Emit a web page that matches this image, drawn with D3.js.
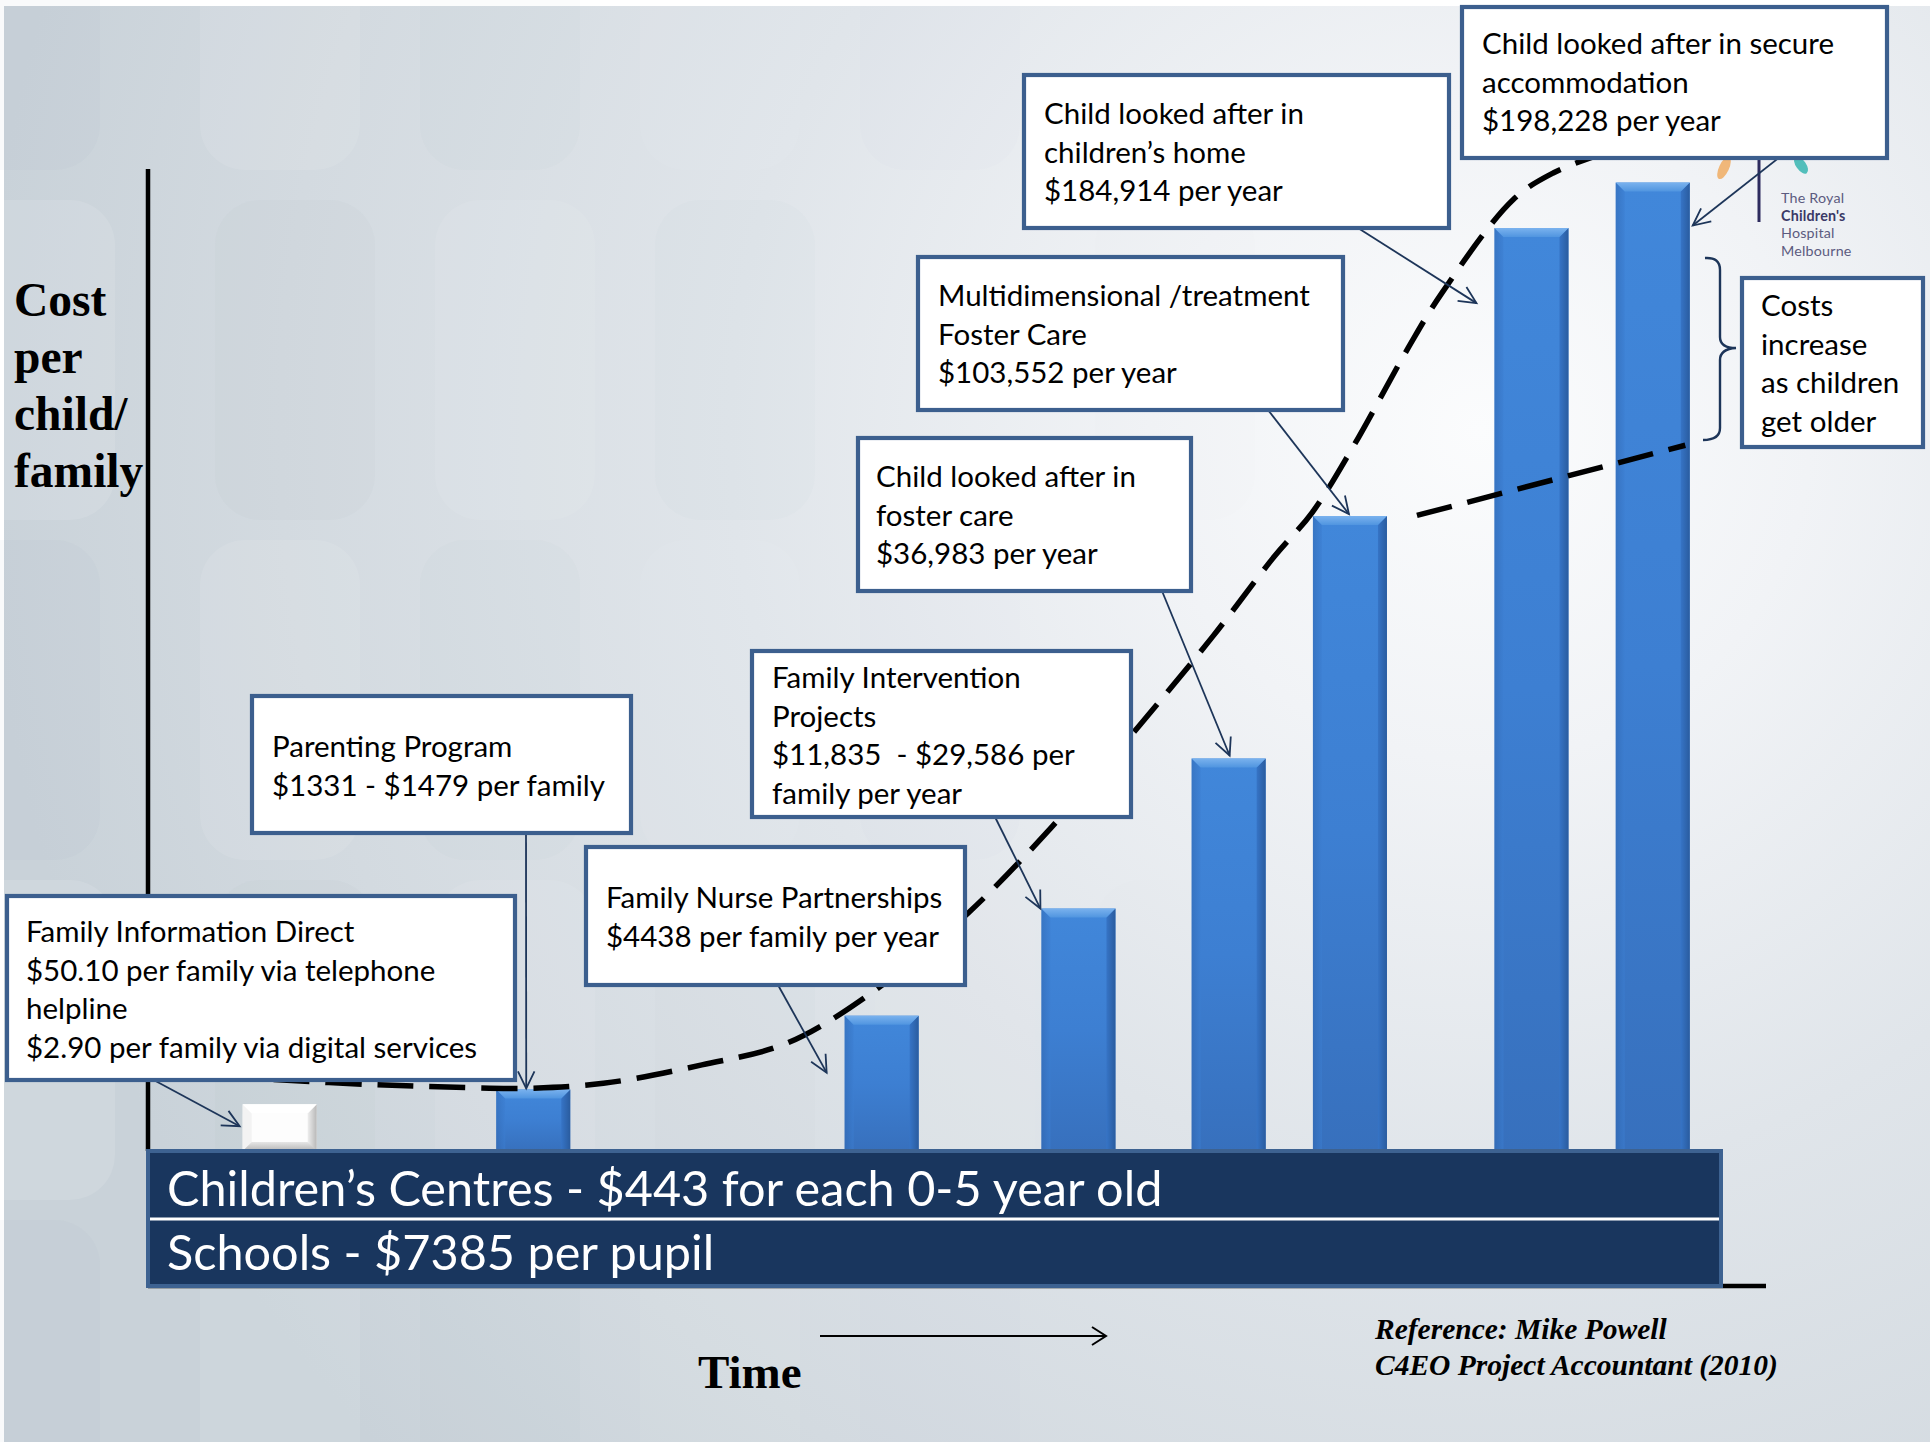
<!DOCTYPE html>
<html><head><meta charset="utf-8">
<script src="https://cdn.jsdelivr.net/npm/d3@7"></script>
<style>
html,body{margin:0;padding:0;background:#fff;}
svg{display:block;}
text{white-space:pre;}
</style></head>
<body>
<svg id="chart" width="1930" height="1442"></svg>
<script>
// ---------------- data ----------------
const categories = [
  "Family Information Direct","Parenting Program","Family Nurse Partnerships",
  "Family Intervention Projects","Child looked after in foster care",
  "Multidimensional /treatment Foster Care","Child looked after in children's home",
  "Child looked after in secure accommodation"];
// position along the time axis (0-100) and schematic cost level (0-100)
const timePosition = [8.37, 24.49, 46.64, 59.15, 68.70, 76.41, 87.95, 95.66];
const costLevel    = [4.76, 6.27, 13.78, 24.69, 39.97, 64.66, 93.98, 98.62];
const labelLines = [
  ["Family Information Direct","$50.10 per family via telephone","helpline","$2.90 per family via digital services"],
  ["Parenting Program","$1331 - $1479 per family"],
  ["Family Nurse Partnerships","$4438 per family per year"],
  ["Family Intervention","Projects","$11,835  - $29,586 per","family per year"],
  ["Child looked after in","foster care","$36,983 per year"],
  ["Multidimensional /treatment","Foster Care","$103,552 per year"],
  ["Child looked after in","children\u2019s home","$184,914 per year"],
  ["Child looked after in secure","accommodation","$198,228 per year"]
];
const noteLines = ["Costs","increase","as children","get older"];
const bandLines = ["Children\u2019s Centres - $443 for each 0-5 year old","Schools - $7385 per pupil"];
const yAxisTitle = ["Cost","per","child/","family"];
const xAxisTitle = "Time";
const referenceLines = ["Reference: Mike Powell","C4EO Project Accountant (2010)"];
const logoLines = ["The Royal","Children's","Hospital","Melbourne"];
// dashed trend curve (time, level)
const trendTime  = [7.98,14.08,19.01,24.26,28.95,35.21,40.69,46.48,52.11,57.36,62.91,67.68,71.60,74.02,76.60,80.13,82.24,86.78,89.36,92.33];
const trendLevel = [7.27,6.77,6.52,6.39,6.89,8.77,11.03,16.67,24.19,32.83,43.11,52.38,60.53,65.04,71.68,81.83,87.34,96.87,99.62,101.50];
// second, flatter dashed line
const plateauTime  = [80.67, 97.73];
const plateauLevel = [64.72, 71.87];

// ---------------- layout ----------------
const W = 1930, H = 1442;
const plot = {x0:148, x1:1721, y0:1151, y1:169};
const x = d3.scaleLinear().domain([0,100]).range([plot.x0, plot.x1]);
const y = d3.scaleLinear().domain([0,100]).range([plot.y0, plot.y1]);
const band = {x0:148, x1:1721, y0:1151, y1:1286, mid:1219};
const barW = 74, bev = 9;
const boxLayout = [
  {x0:7,   y0:896, x1:515,  y1:1080, tx:26,   by:942},
  {x0:252, y0:696, x1:631,  y1:833,  tx:272,  by:757},
  {x0:586, y0:847, x1:965,  y1:985,  tx:606,  by:908},
  {x0:752, y0:651, x1:1131, y1:817,  tx:772,  by:688},
  {x0:858, y0:438, x1:1191, y1:591,  tx:876,  by:487},
  {x0:918, y0:257, x1:1343, y1:410,  tx:938,  by:306},
  {x0:1024,y0:75,  x1:1449, y1:228,  tx:1044, by:124},
  {x0:1462,y0:7,   x1:1887, y1:158,  tx:1482, by:54}
];
const noteLayout = {x0:1742, y0:278, x1:1923, y1:447, tx:1761, by:316};
const lineGap = 38.6;
const arrowLayout = [
  {sx:150,  sy:1078, dx:-40, dy:22},
  {sx:526,  sy:833,  dx:-7,  dy:-1},
  {sx:778,  sy:985,  dx:-55, dy:57},
  {sx:995,  sy:817,  dx:-38, dy:0},
  {sx:1162, sy:591,  dx:1,   dy:-3},
  {sx:1268, sy:410,  dx:-1,  dy:-2},
  {sx:1358, sy:228,  dx:-55, dy:75},
  {sx:1781, sy:156,  dx:40,  dy:43}
];
const boxFont = "Lato, 'Open Sans', sans-serif";
const serif = "'Liberation Serif','DejaVu Serif',serif";

const svg = d3.select('#chart');
const defs = svg.append('defs');

function linGrad(id, x1,y1,x2,y2, stops){
  const g = defs.append('linearGradient').attr('id',id)
    .attr('x1',x1).attr('y1',y1).attr('x2',x2).attr('y2',y2);
  stops.forEach(s=>g.append('stop').attr('offset',s[0]).attr('stop-color',s[1]));
}
linGrad('barFace','0','0','0','1',[[0,'#4187da'],[0.5,'#3d7fd2'],[1,'#3770bd']]);
linGrad('barRight','0','0','1','0',[[0,'#3674c6'],[1,'#2a5c9f']]);
linGrad('barLeft','0','0','1','0',[[0,'#3168b2'],[1,'#3c7ed1']]);
linGrad('barTop','0','0','0','1',[[0,'#7ab2ee'],[1,'#5095e0']]);
linGrad('whiteRight','0','0','1','0',[[0,'#eeeeee'],[1,'#b8b8b8']]);
linGrad('whiteBottom','0','0','0','1',[[0,'#e6e6e6'],[1,'#b5b5b5']]);

const rg = defs.append('radialGradient').attr('id','bg').attr('gradientUnits','userSpaceOnUse')
  .attr('cx',1480).attr('cy',430).attr('r',1500);
[[0,'#fbfcfd'],[0.22,'#f1f3f6'],[0.5,'#e0e5ea'],[0.8,'#d3dae0'],[1,'#c9d2d9']]
  .forEach(s=>rg.append('stop').attr('offset',s[0]).attr('stop-color',s[1]));

// ---------------- background ----------------
svg.append('rect').attr('width',W).attr('height',H).attr('fill','#ffffff');
svg.append('rect').attr('x',4).attr('y',6).attr('width',W-4).attr('height',H-6).attr('fill','url(#bg)');
const tiles = svg.append('g');
const tileCols = [-60, 200, 420, 640, 860, 1080];
const tileRows = [-150, 200, 540, 880, 1220];
tileRows.forEach((ty,ri)=>tileCols.forEach((tx,ci)=>{
  const dark = (ri+ci)%2===0;
  tiles.append('rect').attr('x',tx+(ri%2)*15).attr('y',ty).attr('width',160).attr('height',320)
    .attr('rx',45).attr('fill', dark?'#9aa9b6':'#ffffff')
    .attr('opacity', (dark?0.06:0.11)*Math.max(0.15,1-ci*0.17));
}));

// ---------------- axes ----------------
svg.append('line').attr('x1',plot.x0).attr('x2',1766).attr('y1',band.y1).attr('y2',band.y1)
  .attr('stroke','#000').attr('stroke-width',4.5);
svg.append('line').attr('x1',plot.x0).attr('x2',plot.x0).attr('y1',plot.y1).attr('y2',plot.y0)
  .attr('stroke','#000').attr('stroke-width',4.5);

// ---------------- bars ----------------
const bars = categories.map((c,i)=>({name:c, t:timePosition[i], v:costLevel[i], i}));
svg.append('g').selectAll('g').data(bars).join('g').each(function(d){
  const g = d3.select(this);
  const cx = x(d.t), top = y(d.v), bot = y(0);
  const x0 = cx-barW/2, x1 = cx+barW/2;
  const white = d.i===0;
  g.append('rect').attr('x',x0).attr('y',top).attr('width',barW).attr('height',bot-top)
    .attr('fill', white?'#fdfdfd':'url(#barFace)');
  g.append('path').attr('d',`M${x0},${top}L${x0+bev},${top+bev}L${x0+bev},${bot}L${x0},${bot}Z`)
    .attr('fill', white?'#f3f3f3':'url(#barLeft)').attr('opacity',white?1:0.55);
  g.append('path').attr('d',`M${x1},${top}L${x1-bev},${top+bev}L${x1-bev},${bot}L${x1},${bot}Z`)
    .attr('fill', white?'url(#whiteRight)':'url(#barRight)');
  g.append('path').attr('d',`M${x0},${top}L${x1},${top}L${x1-bev},${top+bev}L${x0+bev},${top+bev}Z`)
    .attr('fill', white?'#ffffff':'url(#barTop)');
  if(white){
    g.append('path').attr('d',`M${x0},${bot}L${x1},${bot}L${x1-bev},${bot-bev}L${x0+bev},${bot-bev}Z`)
      .attr('fill','url(#whiteBottom)');
  }
});

// ---------------- dashed curves ----------------
const lineGen = d3.line().x(d=>x(d[0])).y(d=>y(d[1])).curve(d3.curveCatmullRom.alpha(0.5));
svg.append('path').attr('d', lineGen(trendTime.map((t,i)=>[t,trendLevel[i]])))
  .attr('fill','none').attr('stroke','#000').attr('stroke-width',5.5).attr('stroke-dasharray','36,16');
svg.append('path').attr('d', lineGen(plateauTime.map((t,i)=>[t,plateauLevel[i]])))
  .attr('fill','none').attr('stroke','#000').attr('stroke-width',5.5).attr('stroke-dasharray','36,16');

// ---------------- logo ----------------
const logo = svg.append('g');
logo.append('ellipse').attr('cx',1724).attr('cy',168).attr('rx',5).attr('ry',12)
  .attr('transform','rotate(25,1724,168)').attr('fill','#f0a85a').attr('opacity',0.8);
logo.append('ellipse').attr('cx',1801).attr('cy',165).attr('rx',5).attr('ry',10)
  .attr('transform','rotate(-35,1801,165)').attr('fill','#36b5b0').attr('opacity',0.85);
logo.append('line').attr('x1',1759).attr('x2',1759).attr('y1',156).attr('y2',222)
  .attr('stroke','#2d2b5e').attr('stroke-width',3);
logo.selectAll('text').data(logoLines).join('text')
  .attr('x',1781).attr('y',(d,i)=>203+i*17.5)
  .attr('font-family',boxFont).attr('font-size',14.3).attr('letter-spacing',0.2)
  .attr('font-weight',(d,i)=>i===1?'bold':'normal')
  .attr('fill',(d,i)=>i===1?'#3a3966':'#5c5b80').text(d=>d);

// ---------------- arrows ----------------
const arrowG = svg.append('g').attr('stroke','#1d3559').attr('stroke-width',1.8).attr('fill','none');
arrowLayout.forEach((a,i)=>{
  const ex = x(timePosition[i])+a.dx, ey = y(costLevel[i])+a.dy;
  arrowG.append('line').attr('x1',a.sx).attr('y1',a.sy).attr('x2',ex).attr('y2',ey);
  const ang = Math.atan2(ey-a.sy, ex-a.sx), L = 19, sp = 0.45;
  const p1 = [ex-L*Math.cos(ang-sp), ey-L*Math.sin(ang-sp)];
  const p2 = [ex-L*Math.cos(ang+sp), ey-L*Math.sin(ang+sp)];
  arrowG.append('path').attr('d',`M${p1[0]},${p1[1]}L${ex},${ey}L${p2[0]},${p2[1]}`);
});

// ---------------- label boxes ----------------
function drawBox(b, lines){
  const g = svg.append('g');
  g.append('rect').attr('x',b.x0).attr('y',b.y0).attr('width',b.x1-b.x0).attr('height',b.y1-b.y0)
    .attr('fill','#ffffff').attr('stroke','#3c5f8e').attr('stroke-width',4.2);
  g.selectAll('text').data(lines).join('text')
    .attr('x',b.tx).attr('y',(d,i)=>b.by+i*lineGap)
    .attr('font-family',boxFont).attr('font-size',29.5).attr('fill','#000').text(d=>d);
}
boxLayout.forEach((b,i)=>drawBox(b, labelLines[i]));
drawBox(noteLayout, noteLines);

// curly brace
svg.append('path')
  .attr('d','M1705,258 Q1720,257 1720,270 L1720,337 Q1720,348 1736,348 Q1720,349 1720,360 L1720,428 Q1720,440 1703,440')
  .attr('fill','none').attr('stroke','#1d3559').attr('stroke-width',2.4);

// ---------------- band ----------------
svg.append('rect').attr('x',band.x0).attr('y',band.y0).attr('width',band.x1-band.x0).attr('height',band.y1-band.y0)
  .attr('fill','#19365e').attr('stroke','#3d6291').attr('stroke-width',4);
svg.append('line').attr('x1',band.x0+2).attr('x2',band.x1-2).attr('y1',band.mid).attr('y2',band.mid)
  .attr('stroke','#ffffff').attr('stroke-width',3);
svg.selectAll('text.band').data(bandLines).join('text').attr('class','band')
  .attr('x',167).attr('y',(d,i)=>1206+i*64)
  .attr('font-family',boxFont).attr('font-size',48.6).attr('fill','#ffffff').text(d=>d);

// ---------------- titles ----------------
svg.selectAll('text.ytitle').data(yAxisTitle).join('text').attr('class','ytitle')
  .attr('x',14).attr('y',(d,i)=>316+i*57)
  .attr('font-family',serif).attr('font-weight','bold').attr('font-size',47.5).attr('fill','#000').text(d=>d);
svg.append('text').attr('x',698).attr('y',1388)
  .attr('font-family',serif).attr('font-weight','bold').attr('font-size',47).attr('fill','#000').text(xAxisTitle);
svg.append('line').attr('x1',820).attr('x2',1105).attr('y1',1336).attr('y2',1336)
  .attr('stroke','#000').attr('stroke-width',2);
svg.append('path').attr('d','M1092,1327L1106,1336L1092,1345').attr('fill','none').attr('stroke','#000').attr('stroke-width',2);
svg.selectAll('text.ref').data(referenceLines).join('text').attr('class','ref')
  .attr('x',1375).attr('y',(d,i)=>1339+i*36)
  .attr('font-family',serif).attr('font-weight','bold').attr('font-style','italic')
  .attr('font-size',29.5).attr('fill','#000').text(d=>d);
</script>
</body></html>
